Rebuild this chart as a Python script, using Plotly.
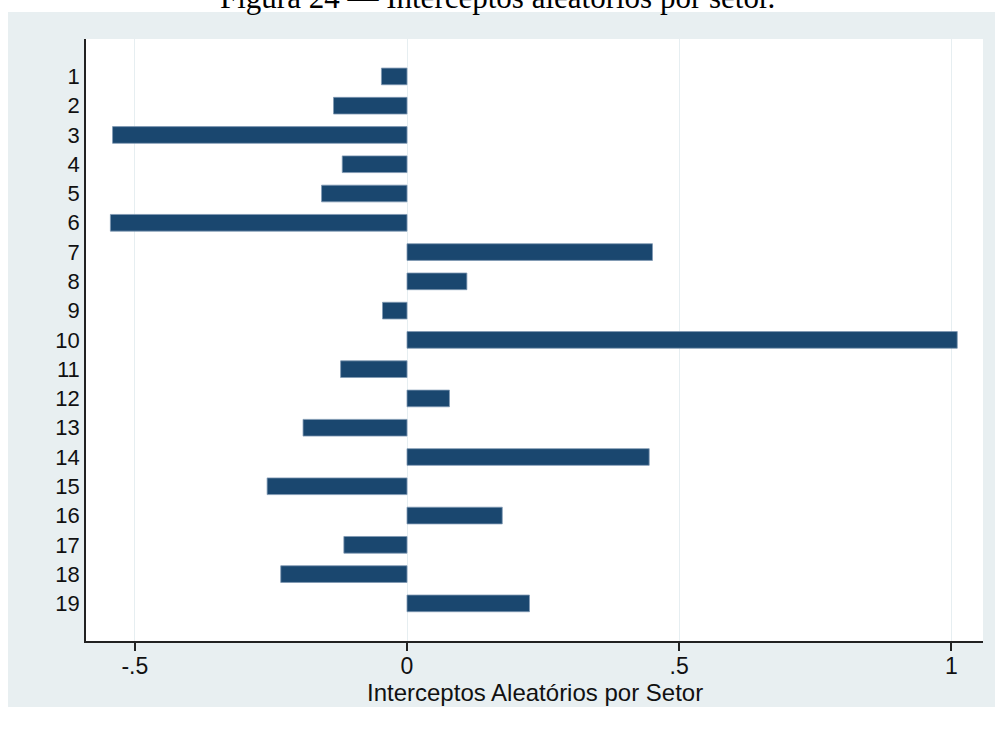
import plotly.graph_objects as go

# Random intercepts (u_j) estimated for each sector
setores = [1, 2, 3, 4, 5, 6, 7, 8, 9, 10, 11, 12, 13, 14, 15, 16, 17, 18, 19]
interceptos = [-0.047, -0.135, -0.541, -0.119, -0.157, -0.545, 0.451, 0.110, -0.045,
               1.011, -0.122, 0.078, -0.191, 0.445, -0.257, 0.175, -0.116, -0.232, 0.225]
rotulos_setor = [str(s) for s in setores]
x_ticks = [-0.5, 0, 0.5, 1]
x_ticktext = ["-.5", "0", ".5", "1"]

titulo_figura = "Figura 24 — Interceptos aleatórios por setor."
titulo_eixo_x = "Interceptos Aleatórios por Setor"

BG_OUTER = "#e8eff1"
NAVY = "#1a476f"
GRID = "#e6eef1"
W, H = 995, 733
L, R, T, B = 86, 12, 39, 92
plot_h = H - T - B
plot_w = W - L - R


def py(pixel):
    """pixel row -> paper y"""
    return (H - B - pixel) / plot_h


def px(pixel):
    """pixel column -> paper x"""
    return (pixel - L) / plot_w


fig = go.Figure(
    go.Bar(
        x=interceptos,
        y=setores,
        orientation="h",
        width=0.57,
        marker=dict(color=NAVY, line=dict(color="#7f98b2", width=0.8)),
        hoverinfo="x+y",
    )
)

fig.update_layout(
    width=W,
    height=H,
    margin=dict(l=L, r=R, t=T, b=B),
    paper_bgcolor=BG_OUTER,
    plot_bgcolor="white",
    showlegend=False,
    font=dict(family="Liberation Sans, Arial, sans-serif", color="#111111"),
    xaxis=dict(
        range=[-0.5898, 1.0583],
        tickvals=x_ticks,
        ticktext=x_ticktext,
        ticks="outside",
        ticklen=8,
        tickwidth=1.5,
        tickcolor="#222222",
        tickfont=dict(size=23),
        ticklabelstandoff=-4,
        showgrid=True,
        gridcolor=GRID,
        gridwidth=1,
        zeroline=True,
        zerolinecolor=GRID,
        zerolinewidth=1,
        showline=True,
        linecolor="#222222",
        linewidth=1.5,
    ),
    yaxis=dict(
        range=[20.285, -0.278],
        tickvals=setores,
        ticktext=rotulos_setor,
        ticks="",
        tickfont=dict(size=22),
        showgrid=False,
        zeroline=False,
        showline=True,
        linecolor="#222222",
        linewidth=1.5,
    ),
)

# white page around the graph region
white_strips = [
    (px(0), px(W), py(0), py(12)),      # top
    (px(0), px(8), py(0), py(H)),       # left
    (px(0), px(W), py(707), py(H)),     # bottom
]
for x0, x1, y1, y0 in white_strips:
    fig.add_shape(type="rect", xref="paper", yref="paper", x0=x0, x1=x1, y0=y0, y1=y1,
                  fillcolor="white", line=dict(width=0), layer="below")

fig.add_annotation(
    text=titulo_eixo_x, xref="paper", yref="paper", x=px(535), y=py(692),
    xanchor="center", yanchor="middle", showarrow=False,
    font=dict(size=24, family="Liberation Sans, Arial, sans-serif", color="#111111"),
)

fig.add_annotation(
    text=titulo_figura, xref="paper", yref="paper", x=px(497), y=py(-2),
    xanchor="center", yanchor="middle", showarrow=False,
    font=dict(size=31, family="Liberation Serif, Times New Roman, serif", color="black"),
)

fig.write_html("out.html")
